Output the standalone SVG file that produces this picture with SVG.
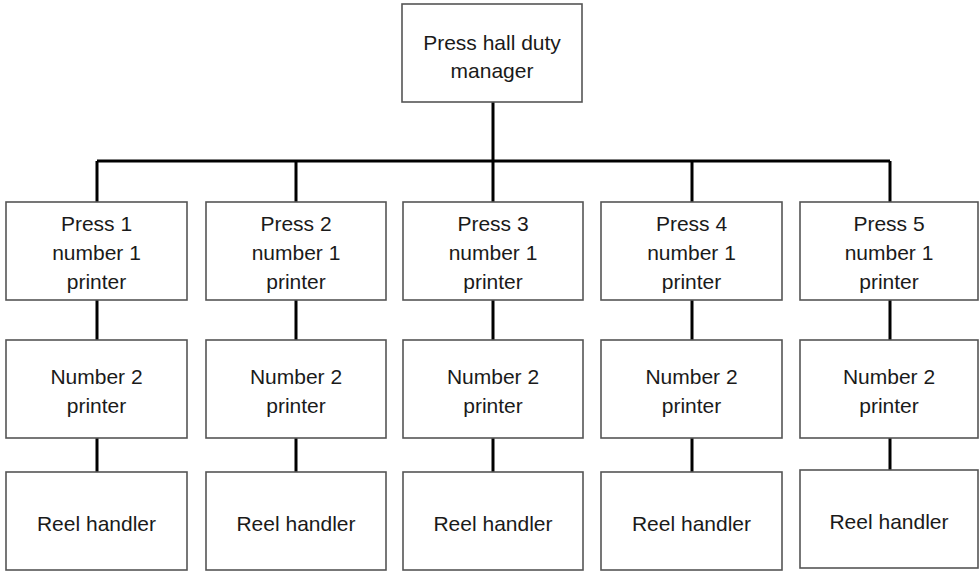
<svg xmlns="http://www.w3.org/2000/svg" width="980" height="572" viewBox="0 0 980 572">
<style>
.box{fill:#fff;stroke:#555;stroke-width:1.6}
.t{font-family:"Liberation Sans",Arial,sans-serif;font-size:21px;fill:#1a1a1a;text-anchor:middle}
.c{stroke:#000;stroke-width:3;fill:none}
</style>
<g id="connectors">
<path class="c" d="M493 102V202M97 161H890M97 161V202M296 161V202M692 161V202M890 161V202"/>
<path class="c" d="M97 300V340M97 438V472M296 300V340M296 438V472M493 300V340M493 438V472M692 300V340M692 438V472M890 300V340M890 438V472"/>
</g>
<g id="manager"><rect class="box" x="402" y="4" width="180" height="98"/><text class="t" x="492" y="50">Press hall duty</text><text class="t" x="492" y="78">manager</text></g>
<g id="p1"><rect class="box" x="6" y="202" width="181" height="98"/><text class="t" x="96.5" y="231">Press 1</text><text class="t" x="96.5" y="260">number 1</text><text class="t" x="96.5" y="289">printer</text></g>
<g id="p2"><rect class="box" x="206" y="202" width="180" height="98"/><text class="t" x="296" y="231">Press 2</text><text class="t" x="296" y="260">number 1</text><text class="t" x="296" y="289">printer</text></g>
<g id="p3"><rect class="box" x="403" y="202" width="180" height="98"/><text class="t" x="493" y="231">Press 3</text><text class="t" x="493" y="260">number 1</text><text class="t" x="493" y="289">printer</text></g>
<g id="p4"><rect class="box" x="601" y="202" width="181" height="98"/><text class="t" x="691.5" y="231">Press 4</text><text class="t" x="691.5" y="260">number 1</text><text class="t" x="691.5" y="289">printer</text></g>
<g id="p5"><rect class="box" x="800" y="202" width="178" height="98"/><text class="t" x="889" y="231">Press 5</text><text class="t" x="889" y="260">number 1</text><text class="t" x="889" y="289">printer</text></g>
<g id="n1"><rect class="box" x="6" y="340" width="181" height="98"/><text class="t" x="96.5" y="384">Number 2</text><text class="t" x="96.5" y="413">printer</text></g>
<g id="n2"><rect class="box" x="206" y="340" width="180" height="98"/><text class="t" x="296" y="384">Number 2</text><text class="t" x="296" y="413">printer</text></g>
<g id="n3"><rect class="box" x="403" y="340" width="180" height="98"/><text class="t" x="493" y="384">Number 2</text><text class="t" x="493" y="413">printer</text></g>
<g id="n4"><rect class="box" x="601" y="340" width="181" height="98"/><text class="t" x="691.5" y="384">Number 2</text><text class="t" x="691.5" y="413">printer</text></g>
<g id="n5"><rect class="box" x="800" y="340" width="178" height="98"/><text class="t" x="889" y="384">Number 2</text><text class="t" x="889" y="413">printer</text></g>
<g id="r1"><rect class="box" x="6" y="472" width="181" height="98"/><text class="t" x="96.5" y="531">Reel handler</text></g>
<g id="r2"><rect class="box" x="206" y="472" width="180" height="98"/><text class="t" x="296" y="531">Reel handler</text></g>
<g id="r3"><rect class="box" x="403" y="472" width="180" height="98"/><text class="t" x="493" y="531">Reel handler</text></g>
<g id="r4"><rect class="box" x="601" y="472" width="181" height="98"/><text class="t" x="691.5" y="531">Reel handler</text></g>
<g id="r5"><rect class="box" x="800" y="470" width="178" height="98"/><text class="t" x="889" y="529">Reel handler</text></g>
</svg>
